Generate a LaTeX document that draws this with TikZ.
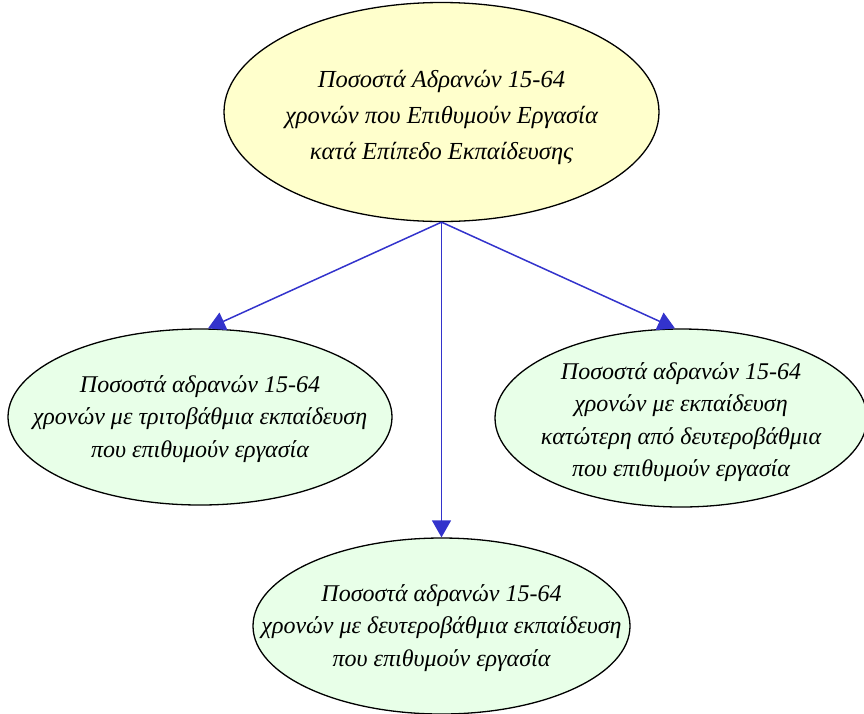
\documentclass[tikz,border=0pt]{standalone}
\usepackage{fontspec}
\setmainfont{Liberation Serif}
\usetikzlibrary{shapes.geometric,arrows.meta}
\definecolor{topfill}{HTML}{FFFFCC}
\definecolor{kidfill}{HTML}{E8FFE8}
\definecolor{edgeblue}{HTML}{3333CC}
\tikzset{
  oval/.style={ellipse,draw=black,line width=1.3pt,inner sep=0pt},
  topoval/.style={oval,fill=topfill,minimum width=435pt,minimum height=219pt},
  kidoval/.style={oval,fill=kidfill},
  toptext/.style={align=center,inner sep=0pt,font=\fontsize{24.5}{36}\selectfont\itshape},
  kidtext/.style={align=center,inner sep=0pt,font=\fontsize{24}{32.5}\selectfont\itshape},
  link/.style={draw=edgeblue,line width=1.5pt,-{Triangle[length=17pt,width=19pt]}}
}
\begin{document}
\begin{tikzpicture}[x=1pt,y=-1pt]
\useasboundingbox (0,0) rectangle (864,713);
\node[topoval] (top) at (441.5,112) {};
\node[toptext] (toptxt) at (441.5,117) {Ποσοστά Αδρανών 15-64\\χρονών που Επιθυμούν Εργασία\\κατά Επίπεδο Εκπαίδευσης};
\node[kidoval,minimum width=384pt,minimum height=176pt] (left) at (200,417) {};
\node[kidtext] (lefttxt) at (200,419) {Ποσοστά αδρανών 15-64\\χρονών με τριτοβάθμια εκπαίδευση\\που επιθυμούν εργασία};
\node[kidoval,minimum width=372pt,minimum height=178pt] (right) at (681,418) {};
\node[kidtext] (righttxt) at (681,422) {Ποσοστά αδρανών 15-64\\χρονών με εκπαίδευση\\κατώτερη από δευτεροβάθμια\\που επιθυμούν εργασία};
\node[kidoval,minimum width=377pt,minimum height=176pt] (bottom) at (441.5,626) {};
\node[kidtext] (bottomtxt) at (441.5,628) {Ποσοστά αδρανών 15-64\\χρονών με δευτεροβάθμια εκπαίδευση\\που επιθυμούν εργασία};
\draw[link] (top.south) -- ([xshift=8pt]left.north);
\draw[link] (top.south) -- (bottom.north);
\draw[link] (top.south) -- ([xshift=-6pt]right.north);
\end{tikzpicture}
\end{document}
